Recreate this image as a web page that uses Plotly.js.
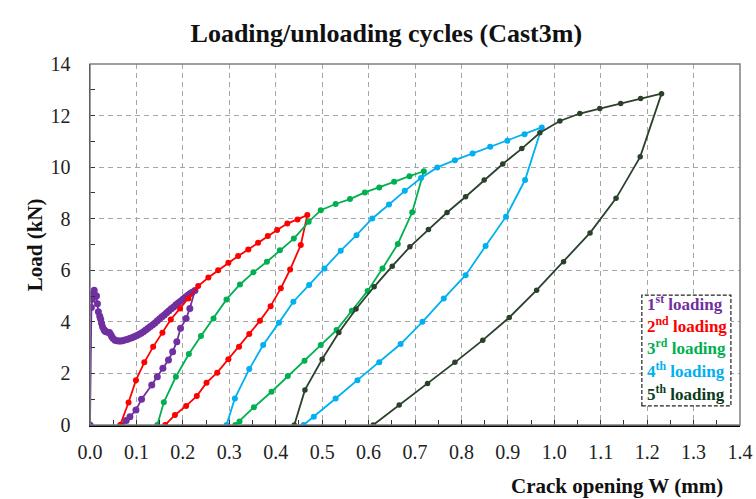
<!DOCTYPE html>
<html>
<head>
<meta charset="utf-8">
<script src="https://cdn.plot.ly/plotly-3.0.1.min.js"></script>
<style>html,body{margin:0;padding:0;background:#fff}#chart{width:756px;height:499px}</style>
</head>
<body>
<div id="chart"></div>
<script>
// ---- Data (crack opening W in mm, load in kN) ----
const load1X = [0, 0.003, 0.005, 0.007, 0.009, 0.011, 0.014, 0.016, 0.018, 0.021, 0.023, 0.025, 0.027, 0.030, 0.032, 0.035, 0.038, 0.042, 0.045, 0.047, 0.050, 0.054, 0.058, 0.062, 0.066, 0.070, 0.075, 0.080, 0.085, 0.090, 0.095, 0.100, 0.105, 0.110, 0.115, 0.120, 0.125, 0.130, 0.135, 0.140, 0.145, 0.150, 0.155, 0.160, 0.165, 0.170, 0.175, 0.180, 0.185, 0.190, 0.195, 0.200, 0.205, 0.210, 0.215, 0.220, 0.226,
  0.215, 0.207, 0.195, 0.187, 0.178, 0.169, 0.157, 0.145, 0.133, 0.111, 0.099, 0.086, 0.078, 0.068];
const load1Y = [0, 4.56, 4.88, 5.10, 5.23, 5.04, 5.00, 4.70, 4.39, 4.22, 4.10, 3.95, 3.81, 3.70, 3.65, 3.62, 3.60, 3.59, 3.50, 3.42, 3.35, 3.29, 3.27, 3.26, 3.26, 3.27, 3.30, 3.32, 3.35, 3.38, 3.42, 3.46, 3.51, 3.56, 3.62, 3.68, 3.75, 3.82, 3.89, 3.96, 4.04, 4.12, 4.20, 4.27, 4.35, 4.43, 4.51, 4.58, 4.66, 4.73, 4.80, 4.88, 4.95, 5.02, 5.09, 5.15, 5.22,
  4.52, 4.13, 3.75, 3.23, 2.84, 2.52, 2.20, 1.87, 1.55, 1.00, 0.58, 0.32, 0.17, 0];

const load2X = [0.065, 0.083, 0.099, 0.117, 0.136, 0.156, 0.174, 0.194, 0.212, 0.233, 0.255, 0.276, 0.298, 0.319, 0.341, 0.362, 0.383, 0.403, 0.425, 0.447, 0.468,
  0.454, 0.431, 0.411, 0.389, 0.366, 0.343, 0.321, 0.298, 0.274, 0.251, 0.230, 0.207, 0.183, 0.162];
const load2Y = [0, 0.87, 1.74, 2.43, 3.03, 3.58, 4.09, 4.52, 4.91, 5.39, 5.72, 6.00, 6.29, 6.55, 6.81, 7.07, 7.33, 7.56, 7.81, 7.97, 8.14,
  6.98, 6.03, 5.30, 4.61, 4.04, 3.53, 3.03, 2.55, 2.03, 1.64, 1.12, 0.74, 0.39, 0];

const load3X = [0.145, 0.159, 0.185, 0.213, 0.239, 0.266, 0.294, 0.323, 0.352, 0.381, 0.409, 0.439, 0.471, 0.497, 0.529, 0.560, 0.592, 0.623, 0.655, 0.688, 0.719,
  0.694, 0.663, 0.630, 0.598, 0.564, 0.531, 0.497, 0.462, 0.426, 0.391, 0.353, 0.322, 0.313];
const load3Y = [0, 0.88, 1.87, 2.75, 3.45, 4.13, 4.87, 5.45, 5.92, 6.33, 6.78, 7.23, 7.88, 8.33, 8.57, 8.76, 9.02, 9.21, 9.43, 9.65, 9.84,
  8.25, 7.02, 6.07, 5.20, 4.43, 3.68, 3.10, 2.49, 1.90, 1.29, 0.69, 0.14, 0];

const load4X = [0.294, 0.312, 0.343, 0.373, 0.407, 0.438, 0.472, 0.505, 0.540, 0.574, 0.608, 0.644, 0.678, 0.713, 0.748, 0.786, 0.824, 0.862, 0.899, 0.936, 0.973,
  0.937, 0.896, 0.852, 0.809, 0.762, 0.716, 0.669, 0.623, 0.576, 0.529, 0.482, 0.460];
const load4Y = [0, 1.03, 2.17, 3.10, 3.97, 4.78, 5.43, 6.07, 6.76, 7.36, 8.01, 8.55, 9.08, 9.58, 9.99, 10.27, 10.53, 10.79, 11.02, 11.28, 11.54,
  9.50, 8.08, 6.94, 5.81, 4.91, 4.00, 3.14, 2.43, 1.74, 1.03, 0.32, 0];

const load5X = [0.440, 0.463, 0.500, 0.536, 0.573, 0.612, 0.651, 0.689, 0.729, 0.769, 0.809, 0.849, 0.889, 0.930, 0.969, 1.012, 1.055, 1.098, 1.143, 1.186, 1.231,
  1.185, 1.133, 1.077, 1.020, 0.962, 0.903, 0.846, 0.786, 0.727, 0.666, 0.610];
const load5Y = [0, 1.36, 2.55, 3.59, 4.50, 5.36, 6.16, 6.91, 7.58, 8.24, 8.85, 9.50, 10.12, 10.72, 11.33, 11.79, 12.08, 12.27, 12.47, 12.66, 12.85,
  10.40, 8.79, 7.45, 6.33, 5.23, 4.17, 3.29, 2.43, 1.61, 0.78, 0];

const seriesNames = ['1<sup>st</sup> loading', '2<sup>nd</sup> loading', '3<sup>rd</sup> loading', '4<sup>th</sup> loading', '5<sup>th</sup> loading'];
const chartTitle = 'Loading/unloading cycles (Cast3m)';
const xTitle = 'Crack opening W (mm)';
const yTitle = 'Load (kN)';

// ---- Styles ----
const lineColors = ['#7030A0', '#FF0000', '#00B050', '#00B0F0', '#2B412B'];
const textColors = ['#7030A0', '#FF0000', '#00B050', '#00B0F0', '#0B3D1C'];
const markerSizes = [7, 6, 6, 6, 5.5];
const xs = [load1X, load2X, load3X, load4X, load5X];
const ys = [load1Y, load2Y, load3Y, load4Y, load5Y];

const traces = xs.map((x, i) => ({
  type: 'scatter', mode: 'lines+markers', x: x, y: ys[i], name: seriesNames[i],
  line: {color: lineColors[i], width: 1.8},
  marker: {color: lineColors[i], size: markerSizes[i]},
  showlegend: false, hoverinfo: 'x+y'
}));

const serif = 'Liberation Serif, DejaVu Serif, serif';
const legendRowsY = [0.338, 0.277, 0.216, 0.152, 0.089];
const annotations = seriesNames.map((n, i) => ({
  xref: 'paper', yref: 'paper', x: 0.854, y: legendRowsY[i], xanchor: 'left', yanchor: 'middle',
  text: '<b>' + n + '</b>', showarrow: false, font: {family: serif, size: 17, color: textColors[i]}
}));
annotations.push({
  xref: 'paper', yref: 'paper', x: 0.977, y: -0.169, xanchor: 'right', yanchor: 'middle',
  text: '<b>' + xTitle + '</b>', showarrow: false, font: {family: serif, size: 21, color: '#111'}
});
annotations.push({
  xref: 'paper', yref: 'paper', x: -0.085, y: 0.5, xanchor: 'center', yanchor: 'middle', textangle: -90,
  text: '<b>' + yTitle + '</b>', showarrow: false, font: {family: serif, size: 21, color: '#111'}
});

const gridStyle = {showgrid: true, gridcolor: '#a6a6a6', gridwidth: 1, griddash: '5px,4px'};

const layout = {
  width: 756, height: 499,
  margin: {l: 90, r: 16, t: 64, b: 74},
  paper_bgcolor: '#fff', plot_bgcolor: '#fff',
  title: {text: '<b>' + chartTitle + '</b>', x: 0.511, xanchor: 'center', y: 0.935, yanchor: 'middle',
          font: {family: serif, size: 26, color: '#111'}},
  xaxis: Object.assign({
    range: [0, 1.4], dtick: 0.1, tick0: 0, tickformat: '.1f',
    ticks: 'inside', ticklen: 5, tickwidth: 1, tickcolor: '#333',
    minor: {dtick: 0.05, ticks: 'inside', ticklen: 5, tickcolor: '#333', showgrid: false},
    showline: true, linecolor: '#000', linewidth: 1.5, zeroline: false,
    tickfont: {family: serif, size: 20, color: '#222'}, ticklabelstandoff: 8
  }, gridStyle),
  yaxis: Object.assign({
    range: [0, 14], dtick: 2, tick0: 0,
    ticks: 'inside', ticklen: 5, tickwidth: 1, tickcolor: '#333',
    minor: {dtick: 1, ticks: 'inside', ticklen: 5, tickcolor: '#333', showgrid: false},
    showline: true, linecolor: '#000', linewidth: 1.5, zeroline: false,
    tickfont: {family: serif, size: 20, color: '#222'}, ticklabelstandoff: 14
  }, gridStyle),
  shapes: [
    {type: 'rect', xref: 'paper', yref: 'paper', x0: 0, x1: 1, y0: 0, y1: 1,
     line: {color: '#7f7f7f', width: 1.5}, layer: 'above'},
    {type: 'rect', xref: 'paper', yref: 'paper', x0: 0.849, x1: 0.986, y0: 0.053, y1: 0.36,
     line: {color: '#222', width: 1.2, dash: '4px,2px'}, fillcolor: '#fff', layer: 'above'}
  ],
  annotations: annotations,
  showlegend: false
};

Plotly.newPlot('chart', traces, layout, {displayModeBar: false, staticPlot: true});
</script>
</body>
</html>
